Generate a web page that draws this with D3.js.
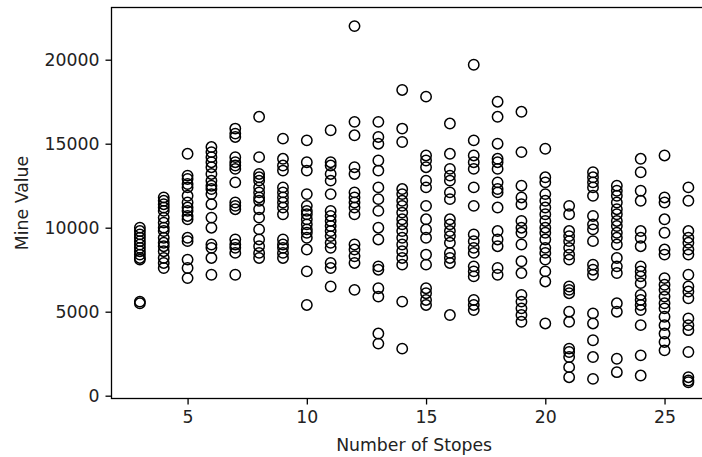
<!DOCTYPE html>
<html>
<head>
<meta charset="utf-8">
<script src="https://cdn.jsdelivr.net/npm/d3@7"></script>
<style>
  body { margin: 0; background: #fff; }
  svg { display: block; font-family: "DejaVu Sans", sans-serif; }
</style>
</head>
<body>
<div id="chart"></div>
<script>
const stopes = [3, 4, 5, 6, 7, 8, 9, 10, 11, 12, 13, 14, 15, 16, 17, 18, 19, 20, 21, 22, 23, 24, 25, 26];

const mineValues = [
  [10000, 9800, 9600, 9400, 9200, 9000, 8800, 8600, 8400, 8200, 8100, 5600, 5500],
  [11800, 11600, 11400, 11200, 11000, 10600, 10300, 10000, 9800, 9400, 9100, 8900, 8600, 8200, 7900, 7600],
  [14400, 13100, 12900, 12600, 12400, 11900, 11500, 11200, 11000, 10700, 10500, 9400, 9200, 8100, 7600, 7000],
  [14800, 14500, 14200, 13900, 13600, 13200, 12800, 12500, 12300, 12000, 11400, 10600, 10000, 9000, 8800, 8200, 7200],
  [15900, 15600, 15400, 14200, 13900, 13700, 13500, 12700, 11500, 11300, 11100, 9300, 9000, 8800, 8500, 7200],
  [16600, 14200, 13200, 13000, 12800, 12400, 12100, 11800, 11600, 11100, 10600, 9900, 9300, 8900, 8500, 8200],
  [15300, 14100, 13700, 13400, 12400, 12100, 11800, 11500, 11200, 10800, 9300, 9000, 8800, 8500, 8200],
  [15200, 13900, 13400, 12000, 11300, 11000, 10800, 10500, 10200, 9900, 9700, 9400, 8700, 7400, 5400],
  [15800, 13900, 13700, 13200, 12800, 12000, 11000, 10700, 10400, 10100, 9800, 9500, 9100, 8800, 7900, 7600, 6500],
  [22000, 16300, 15500, 13600, 13200, 12100, 11800, 11500, 11200, 10800, 9000, 8700, 8300, 7900, 6300],
  [16300, 15400, 15000, 14000, 13400, 12400, 11700, 11000, 10000, 9300, 7700, 7500, 6400, 5900, 3700, 3100],
  [18200, 15900, 15100, 12300, 12000, 11600, 11300, 10900, 10500, 10200, 9800, 9400, 9000, 8600, 8200, 7800, 5600, 2800],
  [17800, 14300, 14000, 13600, 12800, 12400, 11300, 10500, 9900, 9400, 8400, 7800, 6400, 6100, 5700, 5400],
  [16200, 14400, 13500, 13100, 12800, 12100, 11700, 10500, 10200, 9800, 9500, 9100, 8500, 8200, 7900, 4800],
  [19700, 15200, 14300, 13900, 13500, 12400, 11300, 9600, 9200, 8800, 8500, 7700, 7400, 7100, 5700, 5400, 5100],
  [17500, 16600, 15000, 14100, 13900, 13500, 12700, 12300, 12100, 11200, 9800, 9300, 8900, 7600, 7200],
  [16900, 14500, 12500, 11800, 11400, 10400, 10000, 9700, 9000, 8000, 7300, 6000, 5600, 5200, 4800, 4400],
  [14700, 13000, 12700, 12000, 11600, 11200, 10800, 10400, 10000, 9700, 9300, 8800, 8500, 8100, 7400, 6800, 4300],
  [11300, 10800, 9800, 9500, 9200, 8800, 8400, 8100, 6500, 6300, 6100, 5000, 4400, 2800, 2600, 2300, 1700, 1100],
  [13300, 13000, 12700, 12400, 11900, 10700, 10200, 9900, 9200, 7800, 7500, 7200, 4900, 4300, 3300, 2300, 1000],
  [12500, 12200, 11900, 11500, 11100, 10800, 10400, 10100, 9700, 9400, 9000, 8200, 7700, 7300, 5500, 5000, 2200, 1400],
  [14100, 13300, 12200, 11600, 9800, 9400, 8900, 7700, 7400, 7100, 6700, 6000, 5700, 5400, 5100, 4200, 2400, 1200],
  [14300, 11800, 11500, 10500, 9700, 8700, 8400, 7000, 6600, 6300, 5900, 5500, 5200, 4700, 4200, 3700, 3200, 2700],
  [12400, 11600, 9800, 9400, 9100, 8700, 8400, 7200, 6500, 6200, 5800, 4600, 4200, 3900, 2600, 1100, 900, 800]
];

const xTicks = [5, 10, 15, 20, 25];
const yTicks = [0, 5000, 10000, 15000, 20000];

const width = 702, height = 457;
const margin = { top: 7.5, right: -15, bottom: 58.5, left: 111.5 };
const plotW = width - margin.left - margin.right;
const plotH = height - margin.top - margin.bottom;
const textColor = "#222";

const points = [];
stopes.forEach((s, i) => mineValues[i].forEach(v => points.push({ stopes: s, value: v })));

const svg = d3.select("#chart")
  .append("svg")
  .attr("width", width)
  .attr("height", height);

const g = svg.append("g")
  .attr("transform", `translate(${margin.left}, ${margin.top})`);

const xScale = d3.scaleLinear()
  .domain([1.81, 27.2])
  .range([0, plotW]);

const yScale = d3.scaleLinear()
  .domain([-167, 23107])
  .range([plotH, 0]);

const styleAxis = a => {
  a.select(".domain").remove();
  a.selectAll("line").attr("stroke-width", 1.3).attr("stroke", "#000");
  a.selectAll("text").attr("font-size", 17.3).attr("fill", textColor).attr("font-family", "DejaVu Sans");
};

// x axis
g.append("g")
  .attr("transform", `translate(0, ${plotH})`)
  .call(d3.axisBottom(xScale).tickValues(xTicks).tickSize(6).tickPadding(6).tickFormat(d3.format("d")))
  .call(styleAxis);

// y axis
g.append("g")
  .call(d3.axisLeft(yScale).tickValues(yTicks).tickSize(6).tickPadding(6).tickFormat(d3.format("d")))
  .call(styleAxis);

// frame
g.append("rect")
  .attr("x", 0)
  .attr("y", 0)
  .attr("width", plotW)
  .attr("height", plotH)
  .attr("fill", "none")
  .attr("stroke", "#000")
  .attr("stroke-width", 1.3);

g.append("g")
  .selectAll("circle")
  .data(points)
  .join("circle")
  .attr("cx", d => xScale(d.stopes))
  .attr("cy", d => yScale(d.value))
  .attr("r", 5.2)
  .attr("fill", "none")
  .attr("stroke", "#000")
  .attr("stroke-width", 1.5);

svg.append("text")
  .attr("x", margin.left + xScale(14.5))
  .attr("y", 451)
  .attr("text-anchor", "middle")
  .attr("font-size", 17.3)
  .attr("fill", textColor)
  .text("Number of Stopes");

svg.append("text")
  .attr("transform", `translate(28, ${margin.top + plotH / 2}) rotate(-90)`)
  .attr("text-anchor", "middle")
  .attr("font-size", 17.3)
  .attr("fill", textColor)
  .text("Mine Value");
</script>
</body>
</html>
